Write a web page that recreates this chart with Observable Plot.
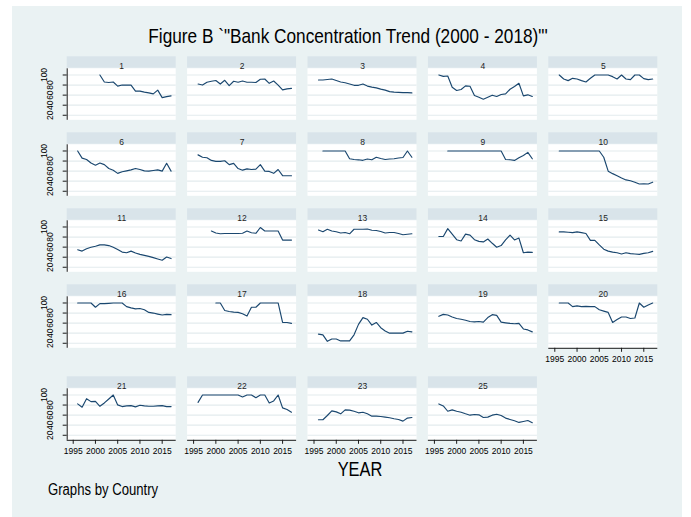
<!DOCTYPE html>
<html>
<head>
<meta charset="utf-8">
<script src="https://cdn.jsdelivr.net/npm/d3@7"></script>
<script src="https://cdn.jsdelivr.net/npm/@observablehq/plot@0.6"></script>
<style>
html, body { margin: 0; padding: 0; background: #fff; }
#wrap { position: relative; width: 691px; height: 517px; overflow: hidden; background: #fff;
        font-family: "Liberation Sans", Arial, sans-serif; }
#bg { position: absolute; left: 12px; top: 6px; width: 670px; height: 511px; background: #eaf2f3; }
.txt { position: absolute; white-space: nowrap; color: #000; }
#title { left: 0; width: 696px; top: 25px; font-size: 21px; line-height: 21px; text-align: center;
         transform: scaleX(0.82); transform-origin: 348px 0; }
#xtitle { left: 0; width: 720px; top: 459px; font-size: 20px; line-height: 20px; text-align: center;
          transform: scaleX(0.82); transform-origin: 360px 0; }
#note { left: 48px; top: 482px; font-size: 16px; line-height: 16px; transform: scaleX(0.82); transform-origin: 0 0; }
#plotA { position: absolute; left: 0; top: 0; }
#plotB { position: absolute; left: 0; top: 370px; }
</style>
</head>
<body>
<div id="wrap">
  <div id="bg"></div>
  <div id="plotA"></div>
  <div id="plotB"></div>
  <div id="title" class="txt">Figure B `"Bank Concentration Trend (2000 - 2018)"'</div>
  <div id="xtitle" class="txt">YEAR</div>
  <div id="note" class="txt">Graphs by Country</div>
</div>
<script>
// ---- data ----
const years = [1996, 1997, 1998, 1999, 2000, 2001, 2002, 2003, 2004, 2005, 2006,
               2007, 2008, 2009, 2010, 2011, 2012, 2013, 2014, 2015, 2016, 2017];
const countries = ["1","2","3","4","5","6","7","8","9","10","11","12","13","14","15",
                   "16","17","18","19","20","21","22","23","25"];
const yTicks = [20, 40, 60, 80, 100];
const xTicks = [1995, 2000, 2005, 2010, 2015];

const c1  = [null, null, null, null, null, 100, 86, 85, 86, 78, 80, 80, 80, 68, 68, 66, 64.5, 62.5, 70, 55, 57, 58.5];
const c2  = [82, 80, 85.5, 87.5, 89, 82, 89.5, 79, 87.5, 85.5, 88, 85.5, 85.5, 85, 91.5, 92, 83.5, 88, 80, 70.5, 72.5, 73.5];
const c3  = [90, 90, 91, 92, 89, 86, 84.5, 82, 79.5, 79.5, 82, 78, 76, 74.5, 72, 70, 67, 66, 65.5, 65, 65, 64.5];
const c4  = [100, 97.3, 98, 75.6, 69.1, 71.1, 78.3, 77.6, 59.3, 55.9, 52, 55.9, 59.9, 57.3, 61.2, 62.6, 71.7, 77, 83.5, 58.6, 60.6, 57.3];
const c5  = [100, 92.1, 88.8, 93.4, 92.1, 88.8, 86.2, 93.4, 100, 100, 100, 100, 96.7, 92.1, 100, 92.1, 90.8, 100, 100, 92.8, 90.8, 92.1];
const c6  = [100, 85.8, 83.2, 76.1, 71.6, 76.1, 72.9, 65.2, 61.9, 55.6, 58.7, 60.6, 62.5, 65.2, 63.2, 60.6, 60, 61.3, 62.5, 60, 75.5, 60];
const c7  = [92.3, 87.6, 86.5, 81.3, 79.3, 79.3, 80.6, 72.9, 75.5, 65.2, 61.9, 64.4, 63.2, 63.9, 72.9, 60, 59.4, 55.6, 63.2, 50.9, 50.9, 50.9];
const c8  = [null, 100, 100, 100, 100, 100, 100, 84.5, 83, 82.5, 81.5, 84, 82.5, 87.5, 85, 83, 84, 84.5, 86, 87, 100, 87.5];
const c9  = [null, null, 100, 100, 100, 100, 100, 100, 100, 100, 100, 100, 100, 100, 100, 83.2, 82.6, 81.3, 86.5, 90.9, 97.3, 84.5];
const c10 = [100, 100, 100, 100, 100, 100, 100, 100, 100, 100, 87.6, 60, 55, 51, 46.5, 42.5, 41, 38, 34.5, 35, 34.5, 38];
const c11 = [54.7, 52.1, 56.7, 59.8, 61.7, 64.4, 64.4, 63.1, 59.8, 55.3, 50.1, 48.9, 52.1, 48.2, 45.6, 43.7, 41.7, 39.2, 36.5, 34, 40.4, 37.3];
const c12 = [null, null, null, 92, 88, 86.5, 87, 87, 87, 87, 87.5, 92, 88.5, 87.5, 99, 92, 92, 92, 92, 74, 74, 74];
const c13 = [94, 90.5, 95.5, 92, 90.5, 88, 89, 86.5, 95.5, 95.5, 95.5, 96, 93.5, 93, 91, 88, 89, 89, 87, 84.5, 85.5, 86.5];
const c14 = [81.2, 81.2, 96.7, 85.8, 74.8, 72.2, 85.8, 83.9, 74.8, 71.5, 70.3, 76.1, 67.6, 59.8, 63.1, 74.2, 83.9, 74.2, 78, 48.9, 50.1, 49.5];
const c15 = [90.3, 90.3, 89.6, 88.9, 90.3, 88.9, 87, 73.5, 73.5, 64.4, 55.9, 52.1, 50.1, 48.9, 46.3, 48.9, 47, 46.3, 45.6, 47.6, 48.9, 51.5];
const c16 = [100, 100, 100, 100, 91.5, 98.7, 98.7, 99.3, 100, 100, 100, 92.8, 90.3, 88.4, 89, 86.5, 81.3, 80, 78, 76.1, 77.4, 76.8];
const c17 = [null, null, null, null, 100, 100, 85.1, 83.2, 81.8, 81.3, 78.7, 74.1, 91.5, 91.5, 100, 100, 100, 100, 100, 61.3, 61.3, 59.4];
const c18 = [38.2, 36.8, 23.9, 28.5, 28.5, 24.6, 24.6, 24.6, 36.8, 57.5, 71, 67.7, 56.1, 61.3, 50.9, 44.5, 40.1, 40.1, 40.1, 40.1, 43.9, 42.6];
const c19 = [73.5, 77.4, 76.1, 72.2, 69.1, 67.7, 65.8, 63.3, 62.5, 63.3, 61.9, 71, 76.8, 75.5, 61.9, 60.6, 59.4, 58.7, 59.4, 48.4, 46.5, 42.6];
const c20 = [100, 100, 100, 92.8, 94.2, 92.8, 93.4, 92.8, 92.8, 86.5, 83.8, 81.3, 61.3, 67.1, 72.2, 72.2, 69.1, 70.2, 100, 91.5, 96.1, 100];
const c21 = [82.3, 75.7, 92.7, 86.8, 87.4, 77.6, 84.2, 92.1, 100, 80.3, 77, 78.3, 78.9, 76.4, 79.6, 78.3, 77.6, 77.6, 78.3, 78.9, 77, 77];
const c22 = [85.4, 100, 100, 100, 100, 100, 100, 100, 100, 100, 96, 100, 100, 94.7, 100, 100, 84.2, 88.2, 100, 74.4, 71.1, 65.8];
const c23 = [50.8, 50.8, 59.3, 68.5, 66.5, 62.6, 70.5, 70, 67.7, 64.6, 65.8, 62.6, 57.9, 57.9, 57.3, 56, 54.7, 52.8, 51.4, 48.1, 54.1, 55.3];
const c25 = [82.3, 78.3, 67.7, 70.5, 67.7, 65.8, 62.6, 59.9, 61.2, 60.6, 55.3, 56, 59.9, 61.8, 59.3, 54.1, 51.4, 48.8, 45.5, 47.4, 49.4, 44.9];

const series = [c1, c2, c3, c4, c5, c6, c7, c8, c9, c10, c11, c12, c13, c14, c15,
                c16, c17, c18, c19, c20, c21, c22, c23, c25];

// ---- layout / styles ----
const xDomain = [1993.65, 2018.15];
const yDomain = [10, 112.3];
const lineColor = "#1a476f";
const gridColor = "#e3ebee";
const stripColor = "#d9e4ea";
const axisColor = "#1a1a1a";
const FONT = "'Liberation Sans', Arial, sans-serif";

const panels = countries.map((c, i) => ({label: c, idx: i, col: i % 5, row: Math.floor(i / 5)}));
const points = panels.flatMap(p =>
  years.map((yr, j) => ({label: p.label, col: p.col, row: p.row, year: yr, value: series[p.idx][j]}))
       .filter(d => d.value != null));

function panelPlot(sub, rows, height, marginTop, marginBottom) {
  const labels = new Set(sub.map(p => p.label));
  const pts = points.filter(d => labels.has(d.label));
  const left = sub.filter(p => p.col === 0);
  const bottom = sub.filter(p => !panels.some(q => q.col === p.col && q.row === p.row + 1));
  const grid = sub.flatMap(p => yTicks.map(v => ({...p, v})));
  const yt = left.flatMap(p => yTicks.map(v => ({...p, v})));
  const xt = bottom.flatMap(p => xTicks.map(v => ({...p, v})));
  const F = {fx: "col", fy: "row"};
  return Plot.plot({
    width: 691, height, marginTop, marginBottom, marginLeft: 66.7, marginRight: 33.7,
    style: {background: "transparent", fontFamily: FONT, fontSize: "8.5px", color: "#000"},
    x: {domain: xDomain, axis: null},
    y: {domain: yDomain, axis: null},
    fx: {domain: [0, 1, 2, 3, 4], axis: null, paddingInner: 0.0947, paddingOuter: 0, round: false},
    fy: {domain: rows, axis: null, paddingInner: rows.length > 1 ? 0.3224 : 0, paddingOuter: 0, round: false},
    marks: [
      // plot region
      Plot.rect(sub, {...F, x1: xDomain[0], x2: xDomain[1], y1: yDomain[0], y2: yDomain[1], fill: "#fff"}),
      // strip
      Plot.rect(sub, {...F, x1: xDomain[0], x2: xDomain[1], y1: yDomain[1], y2: yDomain[1],
                      insetTop: -12, insetBottom: 0.6, fill: stripColor}),
      Plot.text(sub, {...F, frameAnchor: "top", dy: -6.2, text: "label", fontSize: 8.5, fill: "#1e1e1e"}),
      // grid
      Plot.ruleY(grid, {...F, y: "v", x1: xDomain[0], x2: xDomain[1], stroke: gridColor, strokeWidth: 1.2}),
      // series
      Plot.line(pts, {...F, x: "year", y: "value", z: "label", stroke: lineColor, strokeWidth: 1.15}),
      // y axis
      Plot.ruleX(left, {...F, x: xDomain[0], y1: yDomain[0], y2: yDomain[1], stroke: axisColor, strokeWidth: 1}),
      Plot.ruleY(yt, {...F, y: "v", x1: xDomain[0], x2: xDomain[0], insetLeft: -4, stroke: axisColor}),
      Plot.text(yt.filter(d => d.v !== 100), {...F, x: xDomain[0], y: "v", text: d => String(d.v),
                rotate: -90, dx: -16.7, fontSize: 8.5}),
      Plot.text(yt.filter(d => d.v === 100), {...F, x: xDomain[0], y: "v", text: d => String(d.v),
                rotate: -90, dx: -23, fontSize: 8.5}),
      // x axis
      Plot.ruleY(bottom, {...F, y: yDomain[0], x1: xDomain[0], x2: xDomain[1], stroke: axisColor, strokeWidth: 1}),
      Plot.ruleX(xt, {...F, x: "v", y1: yDomain[0], y2: yDomain[0], insetBottom: -4, stroke: axisColor}),
      Plot.text(xt, {...F, x: "v", y: yDomain[0], dy: 11, text: d => String(d.v), fontSize: 8.5})
    ]
  });
}

const subA = panels.filter(p => p.row < 4);
const subB = panels.filter(p => p.row === 4);
document.getElementById("plotA").append(panelPlot(subA, [0, 1, 2, 3], 370, 68.3, 22.2));
document.getElementById("plotB").append(panelPlot(subB, [4], 95, 18.3, 25.2));
</script>
</body>
</html>
